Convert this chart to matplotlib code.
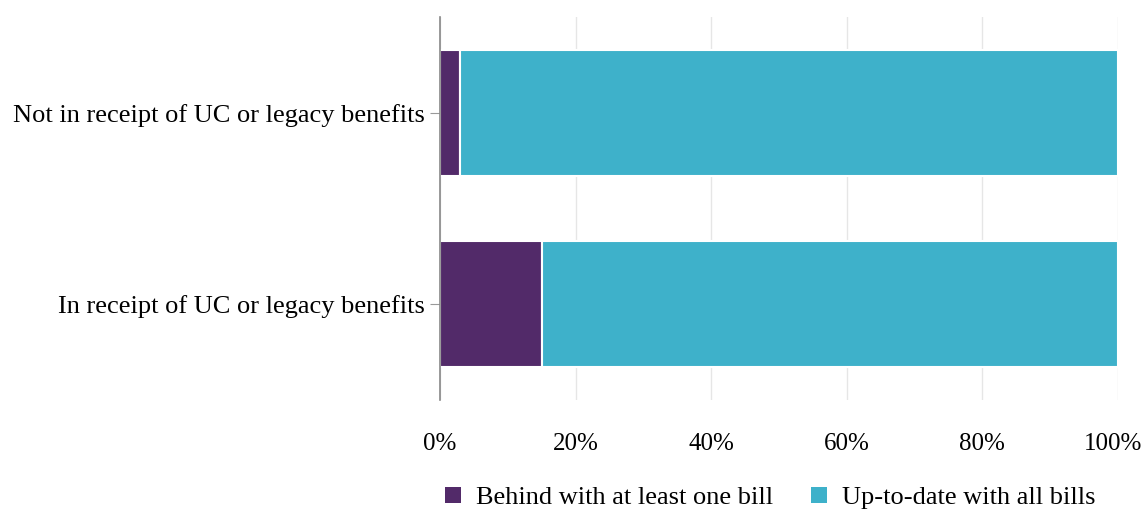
import matplotlib
matplotlib.use("Agg")
import matplotlib.pyplot as plt
from matplotlib.ticker import PercentFormatter

categories = ["In receipt of UC or legacy benefits", "Not in receipt of UC or legacy benefits"]
behind = [15, 3]
uptodate = [85, 97]
series_names = ["Behind with at least one bill", "Up-to-date with all bills"]
colors = ["#522A69", "#3EB1CA"]
xticks = [0, 20, 40, 60, 80, 100]

plt.rcParams['font.family'] = ['Liberation Serif', 'DejaVu Serif']
fig = plt.figure(figsize=(11.46, 5.12), dpi=100)
ax = fig.add_axes([440/1146, 1-400/512, (1118-440)/1146, 383/512])

y = list(range(len(categories)))
ax.barh(y, behind, height=0.66, color=colors[0], edgecolor="white", linewidth=1.5, label=series_names[0], zorder=3)
ax.barh(y, uptodate, left=behind, height=0.66, color=colors[1], edgecolor="white", linewidth=1.5, label=series_names[1], zorder=3)

ax.set_xlim(0, 100)
ax.set_ylim(-0.5, 1.5)
ax.set_yticks(y)
ax.set_yticklabels(categories, fontsize=19)
ax.set_xticks(xticks)
ax.xaxis.set_major_formatter(PercentFormatter(decimals=0))
ax.tick_params(axis='x', length=0, pad=24, labelsize=18)
ax.tick_params(axis='y', length=7, color="#999999", pad=4)
ax.grid(axis='x', color="#e6e6e6", linewidth=1, zorder=0)
for s in ["top", "right", "bottom"]:
    ax.spines[s].set_visible(False)
ax.spines["left"].set_color("#888888")
ax.spines["left"].set_linewidth(1.2)
ax.spines["left"].set_zorder(4)

# keep the last tick label inside the canvas
last = ax.get_xticklabels()[-1]
last.set_horizontalalignment("right")
from matplotlib.transforms import ScaledTranslation
last.set_transform(last.get_transform() + ScaledTranslation(24/100, 0, fig.dpi_scale_trans))

leg = fig.legend(loc="center", bbox_to_anchor=(770/1146, 1-498/512), ncol=2, frameon=False,
                 fontsize=19, handlelength=0.6, handleheight=0.6, handletextpad=0.57, columnspacing=1.45)
for h in leg.legend_handles:
    h.set_edgecolor("none")

fig.savefig("out.png", dpi=100, facecolor="white")
